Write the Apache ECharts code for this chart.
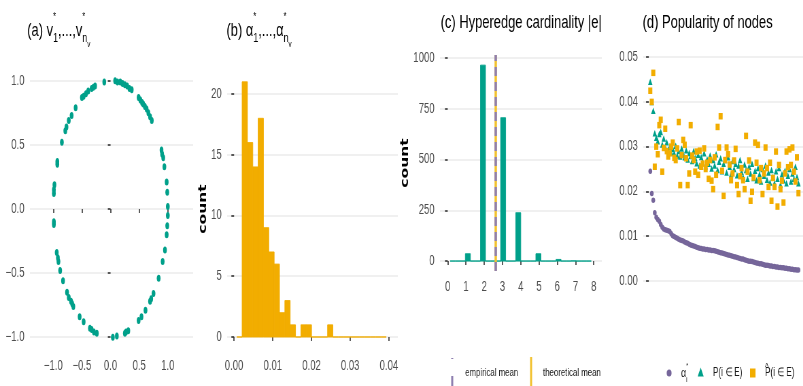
<!DOCTYPE html>
<html>
<head>
<meta charset="utf-8">
<script src="https://cdn.jsdelivr.net/npm/echarts@6/dist/echarts.min.js"></script>
<style>
html, body { margin: 0; padding: 0; overflow: hidden; background: #fff; }
/* the reference is squeezed horizontally, so draw wide and squeeze */
#chart { width: 1181px; height: 386px; transform: scaleX(0.68); transform-origin: 0 0; }
</style>
</head>
<body>
<div id="chart"></div>
<script>
// (a) latent positions on the unit circle
const circleX = [-0.11, 0.08, 0.12, 0.17, 0.21, 0.25, 0.29, 0.33, 0.37, 0.49, 0.52, 0.55, 0.57, 0.60, 0.63, 0.66, 0.69, 0.72,
  0.89, 0.90, 0.92, 0.94, 0.98, 0.99, 1.00, 1.00, 0.99, 0.98, 0.95, 0.91, 0.84, 0.75, 0.71, 0.69, 0.61, 0.54, 0.49, 0.31, 0.27, 0.25, 0.11, 0.04,
  -0.24, -0.29, -0.33, -0.36, -0.47, -0.54, -0.65, -0.67, -0.69, -0.73, -0.76, -0.83, -0.88, -0.91, -0.92, -0.94, -0.99, -0.99, -0.99, -0.99, -0.98,
  -0.93, -0.93, -0.85, -0.79, -0.77, -0.73, -0.68, -0.61, -0.50, -0.47, -0.43, -0.39, -0.33, -0.30, -0.27];
const circleY = [0.99, 1.00, 0.99, 0.99, 0.98, 0.97, 0.96, 0.94, 0.93, 0.87, 0.85, 0.83, 0.82, 0.80, 0.78, 0.75, 0.72, 0.69,
  0.46, 0.43, 0.40, 0.33, 0.21, 0.13, 0.02, -0.05, -0.13, -0.20, -0.32, -0.41, -0.54, -0.66, -0.70, -0.72, -0.79, -0.84, -0.87, -0.95, -0.96, -0.97, -0.99, -1.00,
  -0.97, -0.96, -0.94, -0.93, -0.88, -0.84, -0.76, -0.74, -0.72, -0.69, -0.65, -0.56, -0.48, -0.41, -0.38, -0.34, -0.12, -0.10, 0.12, 0.15, 0.19,
  0.37, 0.35, 0.52, 0.61, 0.64, 0.69, 0.73, 0.79, 0.87, 0.88, 0.90, 0.92, 0.94, 0.95, 0.96];
const unitTicks = [-1, -0.5, 0, 0.5, 1];

// (b) histogram of alpha*
const alphaBinStart = 0.00069;
const alphaBinWidth = 0.00138;
const alphaCounts = [0, 21, 16, 14, 18, 9, 7, 6, 2, 3, 1, 0, 1, 1, 0, 0, 0, 1, 0, 0, 0, 0, 0, 0, 0, 0, 0, 0];
const alphaTicks = [0, 0.01, 0.02, 0.03, 0.04];
const alphaCountTicks = [0, 5, 10, 15, 20];

// (c) histogram of hyperedge cardinality
const cardBinStart = 0.138;
const cardBinWidth = 0.2759;
const cardCounts = [0, 0, 0, 36, 0, 0, 965, 0, 0, 0, 706, 0, 0, 238, 0, 0, 0, 36, 0, 0, 0, 8, 0, 0, 1, 0, 0, 0];
const cardTicks = [0, 1, 2, 3, 4, 5, 6, 7, 8];
const cardCountTicks = [0, 250, 500, 750, 1000];
const empiricalMean = 2.63;
const theoreticalMean = 2.62;

// (d) popularity of nodes, sorted by alpha*
const alphaSorted = [0.0245, 0.0195, 0.0180, 0.0152, 0.0142, 0.0137, 0.0133, 0.0126, 0.0120,
  0.0116, 0.0114, 0.0113, 0.0112, 0.0110, 0.0105,
  0.0101, 0.0099, 0.0097, 0.0095, 0.0093, 0.0091, 0.0090,
  0.0089, 0.0087, 0.0085, 0.0084, 0.0082, 0.0080, 0.0079, 0.0078, 0.0077,
  0.0075, 0.0074, 0.0073, 0.0072, 0.0071, 0.0071, 0.0070, 0.0070, 0.0069, 0.0069, 0.0068, 0.0068, 0.0067, 0.0066, 0.0065, 0.0064, 0.0063, 0.0062,
  0.0061, 0.0060, 0.0059, 0.0058, 0.0057, 0.0056, 0.0055, 0.0054, 0.0053, 0.0052, 0.0051, 0.0050, 0.0049, 0.0049,
  0.0047, 0.0046, 0.0045, 0.0044, 0.0044, 0.0043, 0.0042, 0.0041, 0.0040, 0.0039, 0.0038, 0.0038, 0.0037, 0.0036, 0.0035, 0.0035,
  0.0034, 0.0033, 0.0033, 0.0032, 0.0032, 0.0031, 0.0031, 0.0030, 0.0030, 0.0029, 0.0029, 0.0028, 0.0028, 0.0027, 0.0027, 0.0026, 0.0026, 0.0025, 0.0025, 0.0024, 0.0024];
const pInE = [0.0445, 0.0400, 0.0380, 0.0330, 0.0320, 0.0312, 0.0328, 0.0333, 0.0305, 0.0318,
  0.0298, 0.0310, 0.0292, 0.0300, 0.0287, 0.0295, 0.0285, 0.0302, 0.0280, 0.0290,
  0.0278, 0.0296, 0.0283, 0.0276, 0.0292, 0.0271, 0.0286, 0.0279, 0.0268, 0.0290,
  0.0275, 0.0263, 0.0282, 0.0258, 0.0277, 0.0266, 0.0285, 0.0256, 0.0272, 0.0262,
  0.0280, 0.0251, 0.0270, 0.0258, 0.0283, 0.0248, 0.0266, 0.0274, 0.0245, 0.0262,
  0.0270, 0.0242, 0.0276, 0.0255, 0.0238, 0.0268, 0.0250, 0.0262, 0.0236, 0.0258,
  0.0270, 0.0244, 0.0232, 0.0260, 0.0248, 0.0228, 0.0255, 0.0240, 0.0262, 0.0230,
  0.0246, 0.0225, 0.0252, 0.0238, 0.0222, 0.0250, 0.0235, 0.0258, 0.0226, 0.0242,
  0.0220, 0.0248, 0.0232, 0.0218, 0.0245, 0.0228, 0.0252, 0.0215, 0.0238, 0.0225,
  0.0246, 0.0218, 0.0235, 0.0250, 0.0222, 0.0240, 0.0228, 0.0255, 0.0232, 0.0218];
const pHatInE = [0.0425, 0.0400, 0.0465, 0.0255, 0.0300, 0.0283, 0.0348, 0.0360, 0.0244, 0.0297,
  0.0340, 0.0290, 0.0278, 0.0285, 0.0300, 0.0309, 0.0275, 0.0270, 0.0296, 0.0355,
  0.0214, 0.0281, 0.0315, 0.0304, 0.0274, 0.0214, 0.0240, 0.0348, 0.0280, 0.0270,
  0.0244, 0.0289, 0.0237, 0.0291, 0.0255, 0.0262, 0.0296, 0.0250, 0.0264, 0.0228,
  0.0270, 0.0224, 0.0205, 0.0276, 0.0237, 0.0344, 0.0298, 0.0368, 0.0246, 0.0190,
  0.0270, 0.0298, 0.0283, 0.0260, 0.0225, 0.0240, 0.0269, 0.0295, 0.0214, 0.0194,
  0.0234, 0.0252, 0.0225, 0.0205, 0.0324, 0.0244, 0.0269, 0.0179, 0.0199, 0.0231,
  0.0309, 0.0264, 0.0304, 0.0225, 0.0252, 0.0194, 0.0240, 0.0298, 0.0252, 0.0210,
  0.0264, 0.0179, 0.0230, 0.0210, 0.0289, 0.0166, 0.0259, 0.0205, 0.0224, 0.0175,
  0.0240, 0.0289, 0.0254, 0.0294, 0.0259, 0.0298, 0.0244, 0.0222, 0.0276, 0.0196];
const popTicks = [0, 0.01, 0.02, 0.03, 0.04, 0.05];

const teal = '#00A08A';
const orange = '#F2AD00';
const purple = '#76669A';
const empColor = '#8E7FB0';
const theoColor = '#F2C230';
const font = "'Liberation Sans', Arial, sans-serif";
const tickGrey = '#4d4d4d';
const keyText = '#1a1a1a';

function minus(s) { return s.replace('-', '\u2212'); }

function makeBins(start, width, counts) {
  return counts.map((c, i) => [start + i * width, start + (i + 1) * width, c]);
}

function histRender(color) {
  return function (params, api) {
    const p0 = api.coord([api.value(0), api.value(2)]);
    const p1 = api.coord([api.value(1), 0]);
    return {
      type: 'rect',
      shape: { x: p0[0], y: p0[1], width: p1[0] - p0[0], height: p1[1] - p0[1] },
      style: { fill: color, stroke: color, lineWidth: 0.9 }
    };
  };
}

function xAxisOf(gi, min, max, ticks, fmt) {
  return {
    type: 'value', gridIndex: gi, min: min, max: max, position: 'bottom',
    axisLine: { show: false },
    axisTick: { show: true, length: 4, customValues: ticks, lineStyle: { color: '#333', width: 1.6 } },
    axisLabel: { customValues: ticks, formatter: fmt, margin: 9, color: tickGrey, fontSize: 14, fontFamily: font },
    splitLine: { show: false }
  };
}

function yAxisOf(gi, min, max, ticks, fmt, name, gap) {
  return {
    type: 'value', gridIndex: gi, min: min, max: max,
    name: name || '', nameLocation: 'middle', nameRotate: 90, nameGap: gap || 0,
    nameTextStyle: { fontSize: 15.5, fontWeight: 'bold', color: '#000', fontFamily: "'DejaVu Sans', sans-serif" },
    axisLine: { show: false },
    axisTick: { show: true, length: 4, customValues: ticks, lineStyle: { color: '#333', width: 1.6 } },
    axisLabel: { customValues: ticks, formatter: fmt, margin: 8, color: tickGrey, fontSize: 14, fontFamily: font },
    splitLine: { show: true, lineStyle: { color: '#ebebeb', width: 1.6 } }
  };
}

const titleRich = {
  sp: { fontSize: 11, verticalAlign: 'top', lineHeight: 14, width: 0, fontFamily: font, color: '#000' },
  sb: { fontSize: 13, verticalAlign: 'bottom', lineHeight: 14, padding: [0, 0, 6, 0], fontFamily: font, color: '#000' },
  ssb: { fontSize: 9, verticalAlign: 'bottom', lineHeight: 10, padding: [0, 0, 2, 0], fontFamily: font, color: '#000' }
};

function titleOf(text, left, top, lh) {
  return {
    text: text, left: left, top: top, padding: 0,
    textStyle: { fontSize: 19, fontWeight: 'normal', color: '#000', fontFamily: font, lineHeight: lh, rich: titleRich }
  };
}

const keyRich = {
  g: { fontSize: 13, fontFamily: font, color: keyText },
  sp: { fontSize: 8, verticalAlign: 'top', lineHeight: 10, width: 0, fontFamily: font, color: keyText },
  sb: { fontSize: 8, verticalAlign: 'bottom', lineHeight: 10, fontFamily: font, color: keyText },
  hat: { fontSize: 11, verticalAlign: 'top', lineHeight: 10, width: 0, fontFamily: font, color: keyText }
};

function keyLabel(x, text) {
  return { type: 'text', x: x, y: 373, style: { text: text, font: "12px 'Liberation Sans', Arial, sans-serif", fill: keyText, verticalAlign: 'middle', lineHeight: 22, rich: keyRich } };
}

const chart = echarts.init(document.getElementById('chart'));

const option = {
  animation: false,
  backgroundColor: '#fff',
  title: [
    titleOf('(a) v{sp|*}{sb|1},...,v{sp|*}{sb|n}{ssb|v}', 40, 11, 40),
    titleOf('(b) α{sp|*}{sb|1},...,α{sp|*}{sb|n}{ssb|v}', 333, 11, 40),
    titleOf('(c) Hyperedge cardinality |e|', 648, 12, 22),
    titleOf('(d) Popularity of nodes', 945, 12, 22)
  ],
  grid: [
    { left: 44, top: 68, width: 240, height: 282, outerBoundsMode: 'none' },
    { left: 334, top: 68, width: 251, height: 282, outerBoundsMode: 'none' },
    { left: 647, top: 55, width: 238, height: 216, outerBoundsMode: 'none' },
    { left: 946, top: 46, width: 235, height: 246, outerBoundsMode: 'none' }
  ],
  xAxis: [
    xAxisOf(0, -1.408, 1.442, unitTicks, v => minus(v.toFixed(1))),
    xAxisOf(1, -0.0018, 0.0423, alphaTicks, v => v.toFixed(2)),
    xAxisOf(2, -0.424, 8.44, cardTicks, v => String(v)),
    { type: 'value', gridIndex: 3, min: -3.67, max: 103.1, show: false }
  ],
  yAxis: [
    yAxisOf(0, -1.1, 1.1, unitTicks, v => minus(v.toFixed(1))),
    yAxisOf(1, -1.07, 22.14, alphaCountTicks, v => String(v), 'count', 15),
    yAxisOf(2, -49, 1015, cardCountTicks, v => String(v), 'count', 25),
    yAxisOf(3, -0.0025, 0.0525, popTicks, v => v.toFixed(2))
  ],
  graphic: [
    // legend of panel (c)
    { type: 'line', shape: { x1: 665, y1: 358, x2: 665, y2: 386 }, style: { stroke: empColor, lineWidth: 3, lineDash: [1, 17, 10, 2] } },
    { type: 'text', x: 684, y: 373, style: { text: 'empirical mean', font: "11.5px 'Liberation Sans', Arial, sans-serif", fill: keyText, verticalAlign: 'middle' } },
    { type: 'line', shape: { x1: 781, y1: 357, x2: 781, y2: 386 }, style: { stroke: theoColor, lineWidth: 3 } },
    { type: 'text', x: 798.5, y: 373, style: { text: 'theoretical mean', font: "11.5px 'Liberation Sans', Arial, sans-serif", fill: keyText, verticalAlign: 'middle' } },
    // legend of panel (d)
    { type: 'circle', shape: { cx: 984, cy: 373, r: 3.6 }, style: { fill: purple } },
    keyLabel(1001.5, '{g|α}{sp|*}{sb|i}'),
    { type: 'polygon', shape: { points: [[1030.4, 367.5], [1034.8, 376.5], [1026, 376.5]] }, style: { fill: teal } },
    keyLabel(1048.5, 'P(i ∈ E)'),
    { type: 'rect', shape: { x: 1103, y: 368.5, width: 8, height: 9 }, style: { fill: orange } },
    keyLabel(1125, '{hat|^}P(i ∈ E)')
  ],
  series: [
    {
      type: 'scatter', xAxisIndex: 0, yAxisIndex: 0, silent: true,
      data: circleX.map((x, i) => [x, circleY[i]]),
      symbol: 'circle', symbolSize: [5.5, 7], itemStyle: { color: teal, opacity: 1 }
    },
    {
      type: 'custom', xAxisIndex: 1, yAxisIndex: 1, silent: true,
      data: makeBins(alphaBinStart, alphaBinWidth, alphaCounts),
      encode: { x: [0, 1], y: 2 }, renderItem: histRender(orange)
    },
    {
      type: 'custom', xAxisIndex: 2, yAxisIndex: 2, silent: true,
      data: makeBins(cardBinStart, cardBinWidth, cardCounts),
      encode: { x: [0, 1], y: 2 }, renderItem: histRender(teal)
    },
    {
      type: 'line', xAxisIndex: 2, yAxisIndex: 2, data: [], silent: true,
      markLine: { symbol: ['none', 'none'], silent: true, label: { show: false },
        lineStyle: { color: theoColor, width: 3.5, type: 'solid' }, data: [{ xAxis: theoreticalMean }] }
    },
    {
      type: 'line', xAxisIndex: 2, yAxisIndex: 2, data: [], silent: true,
      markLine: { symbol: ['none', 'none'], silent: true, label: { show: false },
        lineStyle: { color: empColor, width: 3.5, type: [9, 6] }, data: [{ xAxis: empiricalMean }] }
    },
    {
      name: 'α*i', type: 'scatter', xAxisIndex: 3, yAxisIndex: 3, silent: true,
      data: alphaSorted.map((v, i) => [i + 1, v]),
      symbol: 'circle', symbolSize: 5.5, itemStyle: { color: purple, opacity: 1 }
    },
    {
      name: 'P(i ∈ E)', type: 'scatter', xAxisIndex: 3, yAxisIndex: 3, silent: true,
      data: pInE.map((v, i) => [i + 1, v]),
      symbol: 'triangle', symbolSize: 6.5, itemStyle: { color: teal, opacity: 1 }
    },
    {
      name: 'P^(i ∈ E)', type: 'scatter', xAxisIndex: 3, yAxisIndex: 3, silent: true,
      data: pHatInE.map((v, i) => [i + 1, v]),
      symbol: 'rect', symbolSize: [6, 6.5], itemStyle: { color: orange, opacity: 1 }
    }
  ]
};

chart.setOption(option);
</script>
</body>
</html>
